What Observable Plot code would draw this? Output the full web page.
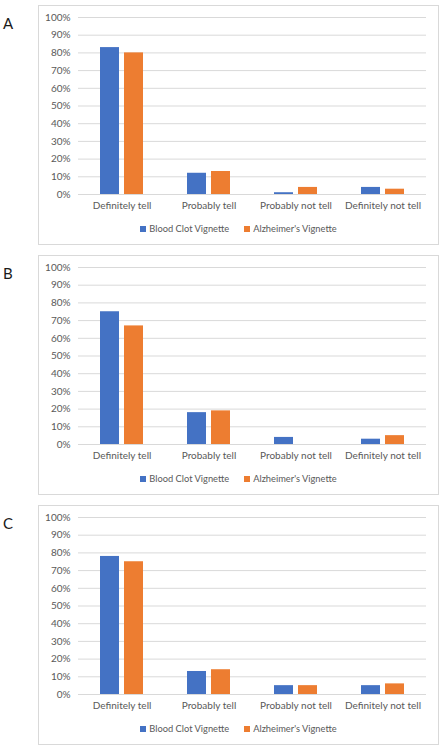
<!DOCTYPE html>
<html>
<head>
<meta charset="utf-8">
<script src="https://cdn.jsdelivr.net/npm/d3@7"></script>
<script src="https://cdn.jsdelivr.net/npm/@observablehq/plot@0.6"></script>
<style>
  html, body { margin: 0; padding: 0; background: #fff; }
  #wrap { position: relative; width: 443px; height: 750px; font-family: Lato, "Liberation Sans", Arial, sans-serif; }
  .box { position: absolute; left: 38px; width: 401px; height: 240px; border: 1px solid #d9d9d9; box-sizing: border-box; }
  .letter { position: absolute; left: 3px; font-size: 15px; color: #1a1a1a; line-height: 1; }
  .chart { position: absolute; left: 0; }
  .legend { position: absolute; left: 38px; width: 401px; display: flex; justify-content: center; align-items: center; gap: 15px; font-size: 9.3px; color: #595959; }
  .legend span.item { display: flex; align-items: center; gap: 3px; }
  .legend span.sw { display: inline-block; width: 6px; height: 6px; }
</style>
</head>
<body>
<div id="wrap"></div>
<script>
const categories = ["Definitely tell", "Probably tell", "Probably not tell", "Definitely not tell"];
const seriesNames = ["Blood Clot Vignette", "Alzheimer's Vignette"];
const seriesColors = ["#4472C4", "#ED7D31"];
const panelLabels = ["A", "B", "C"];
const yTicks = [0, 0.1, 0.2, 0.3, 0.4, 0.5, 0.6, 0.7, 0.8, 0.9, 1.0];

// values in percent, per panel
const bloodClotA = [83, 12, 1, 4];
const alzheimersA = [80, 13, 4, 3];
const bloodClotB = [75, 18, 4, 3];
const alzheimersB = [67, 19, 0, 5];
const bloodClotC = [78, 13, 5, 5];
const alzheimersC = [75, 14, 5, 6];

const panels = [
  [bloodClotA, alzheimersA],
  [bloodClotB, alzheimersB],
  [bloodClotC, alzheimersC]
];

const wrap = document.getElementById("wrap");

panels.forEach((vals, i) => {
  const oy = i * 250;
  const data = [];
  categories.forEach((c, ci) => {
    seriesNames.forEach((s, si) => {
      data.push({category: c, series: s, value: vals[si][ci] / 100});
    });
  });

  const box = document.createElement("div");
  box.className = "box";
  box.style.top = (oy + 5) + "px";
  wrap.appendChild(box);

  const letter = document.createElement("div");
  letter.className = "letter";
  letter.style.top = (oy + 16) + "px";
  letter.textContent = panelLabels[i];
  wrap.appendChild(letter);

  const chart = Plot.plot({
    width: 443,
    height: 216,
    marginLeft: 77,
    marginRight: 16,
    marginTop: 17,
    marginBottom: 22,
    style: {fontFamily: "Lato, 'Liberation Sans', Arial, sans-serif", fontSize: "10px", color: "#595959", background: "transparent"},
    fx: {domain: categories, padding: 0, label: null},
    x: {domain: seriesNames, paddingInner: 0.2, paddingOuter: 0.9, axis: null},
    y: {domain: [0, 1], label: null},
    color: {domain: seriesNames, range: seriesColors},
    marks: [
      Plot.gridY(yTicks, {stroke: "#d9d9d9", strokeOpacity: 1, strokeWidth: 1}),
      Plot.axisY(yTicks, {tickSize: 0, tickPadding: 8, tickFormat: d3.format(".0%"), label: null, fill: "#595959"}),
      Plot.axisFx({anchor: "bottom", tickSize: 0, tickPadding: 7, label: null, fill: "#595959"}),
      Plot.barY(data, {fx: "category", x: "series", y: "value", fill: "series"})
    ]
  });
  chart.classList.add("chart");
  chart.style.top = oy + "px";
  wrap.appendChild(chart);

  const legend = document.createElement("div");
  legend.className = "legend";
  legend.style.top = (oy + 223) + "px";
  seriesNames.forEach((s, si) => {
    const item = document.createElement("span");
    item.className = "item";
    const sw = document.createElement("span");
    sw.className = "sw";
    sw.style.background = seriesColors[si];
    const t = document.createElement("span");
    t.textContent = s;
    item.appendChild(sw);
    item.appendChild(t);
    legend.appendChild(item);
  });
  wrap.appendChild(legend);
});
</script>
</body>
</html>
